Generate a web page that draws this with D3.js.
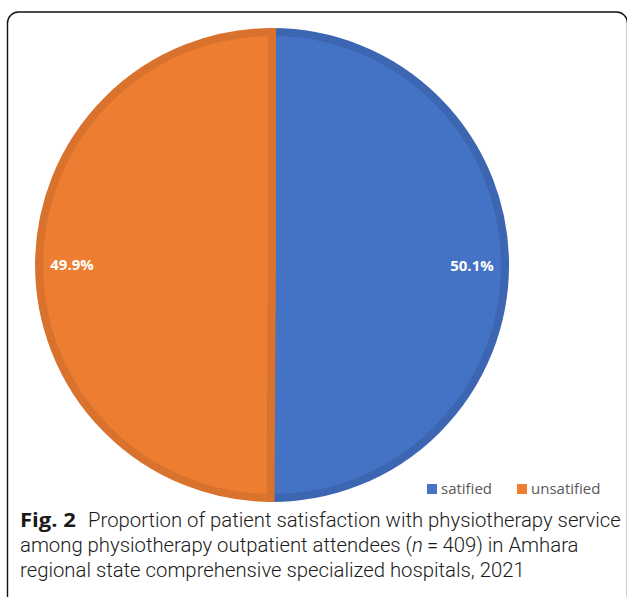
<!DOCTYPE html>
<html>
<head>
<meta charset="utf-8">
<script src="https://cdn.jsdelivr.net/npm/d3@7"></script>
<style>
  body { margin: 0; background: #fff; }
  svg { display: block; }
</style>
</head>
<body>
<div id="chart"></div>
<script>
// data
const categories = ['satified', 'unsatified'];
const values = [50.1, 49.9];
const colors = ['#4472C4', '#ED7D31'];
const borders = ['#3D66B2', '#D8722D'];
const captionLines = [
  'Proportion of patient satisfaction with physiotherapy service',
  'among physiotherapy outpatient attendees (',
  'regional state comprehensive specialized hospitals, 2021'
];

const W = 627, H = 597;
const cx = 272, cy = 265, r = 237;

const svg = d3.select('#chart').append('svg')
  .attr('width', W).attr('height', H);

// frame round the figure
svg.append('rect')
  .attr('x', 7.5).attr('y', 12)
  .attr('width', 620).attr('height', 600)
  .attr('rx', 11)
  .style('fill', 'none')
  .style('stroke', '#111')
  .style('stroke-width', 1.4);

const rows = categories.map(function(c, i){
  return {name: c, value: values[i], color: colors[i], border: borders[i]};
});

const pie = d3.pie()
  .sort(null)
  .value(function(d){ return d.value; });

const arcs = pie(rows);

// slices: stroke centred on r-4 so the dark band sits inside the edge
const arc = d3.arc().innerRadius(0).outerRadius(r - 4);
const labelArc = d3.arc().innerRadius(200).outerRadius(200);

const plot = svg.append('g')
  .attr('transform', `translate(${cx}, ${cy})`);

plot.selectAll('path.slice')
  .data(arcs)
  .enter()
  .append('path')
  .attr('class', 'slice')
  .attr('d', arc)
  .style('fill', function(d){ return d.data.color; })
  .style('stroke', function(d){ return d.data.border; })
  .style('stroke-width', 8)
  .style('stroke-linejoin', 'miter');

plot.selectAll('text.pct')
  .data(arcs)
  .enter()
  .append('text')
  .attr('class', 'pct')
  .attr('x', function(d){ return labelArc.centroid(d)[0]; })
  .attr('y', function(d){ return labelArc.centroid(d)[1]; })
  .attr('dy', '0.35em')
  .attr('text-anchor', 'middle')
  .style('font-family', '"Open Sans", "DejaVu Sans", sans-serif')
  .style('font-weight', 'bold')
  .style('font-size', '15px')
  .style('fill', '#fff')
  .text(function(d){ return d3.format('.1f')(d.data.value) + '%'; });

// legend
const legendX = d3.scaleOrdinal().domain(categories).range([427, 517]);
const legend = svg.selectAll('g.legend')
  .data(rows)
  .enter()
  .append('g')
  .attr('class', 'legend')
  .attr('transform', function(d){ return `translate(${legendX(d.name)}, 484)`; });

legend.append('rect')
  .attr('width', 10).attr('height', 10)
  .style('fill', function(d){ return d.color; });

legend.append('text')
  .attr('x', 14).attr('y', 10)
  .style('font-family', '"Open Sans", sans-serif')
  .style('font-size', '15px')
  .style('fill', '#595959')
  .text(function(d){ return d.name; });

// caption: one common horizontal squeeze, taken from the first line
const cap = svg.append('g')
  .style('font-family', 'Roboto, "Open Sans", sans-serif')
  .style('font-weight', 300)
  .style('font-size', '20px')
  .style('fill', '#1a1a1a');

const fig = cap.append('text')
  .style('font-weight', 'bold')
  .style('font-family', '"Open Sans", sans-serif')
  .text('Fig. 2');
const figW = fig.node().getBBox().width;
fig.attr('transform', `translate(20, 527) scale(${56 / figW}, 1)`);

const l1 = cap.append('text').text(captionLines[0]);
const s = 533 / l1.node().getBBox().width;
l1.attr('transform', `translate(88, 527) scale(${s}, 1)`);

const l2 = cap.append('text').attr('transform', `translate(20, 552) scale(${s}, 1)`);
l2.append('tspan').text(captionLines[1]);
l2.append('tspan').style('font-style', 'italic').text('n');
l2.append('tspan').text('\u2009=\u2009409) in Amhara');

cap.append('text')
  .attr('transform', `translate(20, 577) scale(${s}, 1)`)
  .text(captionLines[2]);
</script>
</body>
</html>
